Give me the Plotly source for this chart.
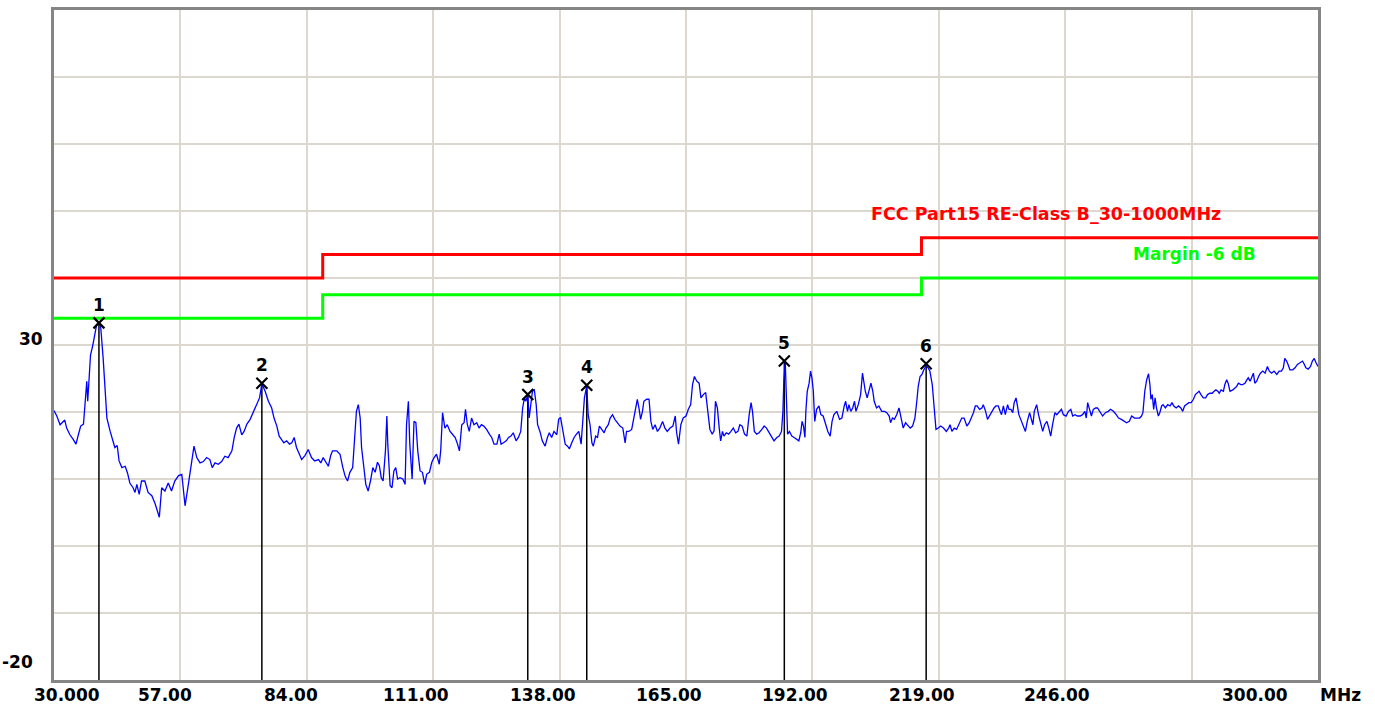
import plotly.graph_objects as go

# ---------------- data ----------------
freq_mhz = [
    30.0, 30.6, 31.3, 32.0, 32.3, 32.7, 33.4, 34.1, 34.7, 35.2, 35.7, 36.3, 36.6, 37.0, 37.2, 37.5,
    37.8, 38.3, 38.8, 39.1, 39.6, 40.0, 40.5, 41.3, 42.0, 42.6, 43.0, 43.5, 43.9, 44.5, 45.2, 45.7,
    46.2, 46.9, 47.3, 47.7, 48.2, 48.7, 49.4, 50.1, 50.9, 51.6, 52.1, 52.5, 53.0, 53.7, 54.4, 55.1,
    55.8, 56.6, 57.3, 57.6, 58.0, 58.7, 59.4, 59.9, 60.5, 61.2, 61.9, 62.6, 63.3, 63.8, 64.4, 65.1,
    65.8, 66.5, 67.2, 68.0, 68.5, 69.0, 69.5, 70.1, 70.6, 71.2, 71.9, 72.6, 73.3, 73.9, 74.4,
    75.1, 75.8, 76.5, 77.0, 77.6, 78.1, 78.6, 79.1, 79.7, 80.3, 80.8, 81.3, 81.8, 82.4, 82.9, 83.6,
    84.3, 85.0, 85.7, 86.5, 87.0, 87.5, 88.1, 88.6, 89.1, 89.5, 90.4, 91.1, 91.7, 92.2, 92.7, 93.2,
    93.8, 94.3, 94.6, 95.0, 95.4, 95.7, 96.2, 96.6, 97.1, 97.6, 98.1, 98.6, 99.1, 99.5, 99.9, 100.3,
    100.8, 101.1, 101.3, 101.8, 102.2, 102.6, 103.0, 103.4, 103.9, 104.5, 105.0, 105.3, 105.7, 106.0,
    106.5, 106.9, 107.3, 107.7, 108.2, 108.7, 109.2, 109.6, 110.2, 110.7, 111.2, 111.7, 112.3, 112.6,
    113.0, 113.5, 114.0, 114.6, 115.2, 115.7, 116.2, 116.6, 117.1, 117.6, 117.9, 118.3, 118.7, 119.2,
    119.7, 120.3, 120.8, 121.3, 121.8, 122.4, 123.1,
    123.5, 124.0, 124.6, 125.1, 125.5, 126.0, 126.6, 127.1, 127.6, 128.1, 128.7, 129.2, 129.7, 130.1,
    130.5, 130.8, 131.2, 131.5, 131.9, 132.2, 132.6, 133.0, 133.3, 133.8, 134.3, 134.9, 135.4, 135.8,
    136.3, 136.8, 137.4, 137.8, 138.2, 138.7, 139.2, 139.7, 140.1, 140.6, 141.1, 141.6, 142.1, 142.6,
    142.9, 143.3, 143.8, 144.1, 144.5, 144.9, 145.2, 145.7, 146.1, 146.5, 147.0, 147.5, 147.9, 148.4,
    148.8, 149.3, 149.8, 150.3, 150.9, 151.5, 152.0, 152.3, 152.8, 153.4, 153.9, 154.3, 154.6, 155.0,
    155.3, 155.7, 156.0, 156.6, 157.1, 157.5, 157.9, 158.4, 158.9, 159.4, 160.0, 160.5, 161.0, 161.6,
    162.2, 162.7, 163.0, 163.4, 163.9, 164.4, 165.0, 165.5, 166.0, 166.4, 166.8, 167.3, 167.8, 168.2,
    168.7, 169.2, 169.6,
    170.1, 170.6, 171.0, 171.3, 171.7, 172.1, 172.4, 172.8, 173.1, 173.6, 174.1, 174.6, 175.1, 175.6,
    176.1, 176.5, 177.0, 177.5, 178.0, 178.5, 178.9, 179.2, 179.6, 180.1, 180.6, 181.2, 181.7, 182.2,
    182.7, 183.2, 183.8, 184.4, 184.9, 185.4, 185.7, 185.9, 186.2, 186.4, 186.7, 187.1, 187.6, 188.1,
    188.6, 189.1, 189.5, 189.8, 190.1, 190.4, 190.6, 190.9, 191.3, 191.6, 191.9, 192.2, 192.5, 192.9,
    193.4, 193.8, 194.3, 194.8, 195.3, 195.8, 196.2, 196.6, 197.2, 197.8, 198.3, 198.8, 199.1, 199.5,
    199.8, 200.2, 200.6, 201.0, 201.3, 201.8, 202.3, 202.7, 203.0, 203.3, 203.7, 204.2, 204.5, 204.9,
    205.2, 205.7, 206.2, 206.8, 207.4, 207.9, 208.4, 208.7, 209.1, 209.5, 210.0, 210.5, 210.9, 211.4,
    211.9, 212.3, 212.9, 213.4, 213.9, 214.3, 214.6, 215.0, 215.4, 215.8, 216.3, 216.7,
    217.1, 217.6, 217.8, 218.1, 218.4, 218.9, 219.4, 220.0, 220.6, 221.1, 221.4, 221.8, 222.3, 222.8,
    223.4, 223.9, 224.4, 225.0, 225.5, 226.0, 226.4, 226.8, 227.2, 227.7, 228.2, 228.5, 229.0, 229.4,
    229.8, 230.3, 230.8, 231.2, 231.7, 232.1, 232.4, 232.8, 233.2, 233.7, 234.0, 234.4, 234.8, 235.1,
    235.5, 235.8, 236.1, 236.5, 236.9, 237.5, 237.9, 238.4, 238.7, 239.1, 239.4, 239.9, 240.3, 240.8,
    241.2, 241.6, 242.1, 242.5, 242.9, 243.3, 243.8, 244.2, 244.8, 245.2, 245.6, 246.2, 246.7, 247.2,
    247.6, 248.1, 248.6, 249.2, 249.7, 250.2, 250.5, 250.8, 251.2, 251.6, 252.0, 252.5, 252.9, 253.4,
    254.0, 254.6, 255.2, 255.7, 256.3, 256.9, 257.4, 258.0, 258.6, 259.1, 259.7, 260.2, 260.8, 261.3,
    261.9, 262.3, 262.6,
    263.0, 263.4, 263.8, 264.1, 264.3, 264.6, 264.9, 265.2, 265.5, 265.9, 266.2, 266.6, 266.9, 267.4,
    267.9, 268.4, 268.8, 269.2, 269.7, 270.2, 270.7, 271.1, 271.5, 271.9, 272.4, 272.9, 273.4, 273.8,
    274.2, 274.6, 275.0, 275.5, 276.0, 276.4, 276.9, 277.4, 277.8, 278.2, 278.6, 278.9, 279.3, 279.8,
    280.1, 280.5, 280.8, 281.2, 281.8, 282.3, 282.6, 283.0, 283.5, 283.9, 284.4, 284.8, 285.1, 285.5,
    285.8, 286.2, 286.5, 286.9, 287.3, 287.7, 288.2, 288.7, 289.2, 289.6, 290.1, 290.6, 291.2, 291.7,
    292.2, 292.6, 292.9, 293.3, 293.6, 294.0, 294.6, 295.1, 295.6, 296.1, 296.7, 297.1, 297.4, 297.9,
    298.4, 298.8, 299.2, 299.6, 300.0,
]
level_dbuv = [
    20.2, 19.4, 18.1, 18.6, 18.8, 17.6, 16.6, 15.9, 15.2, 16.6, 17.9, 18.2, 21.1, 24.6, 21.6, 24.6,
    28.5, 30.0, 32.0, 33.0, 33.4, 32.5, 28.0, 19.1, 17.1, 15.7, 14.7, 15.0, 12.7, 11.7, 11.9, 10.9,
    9.4, 8.7, 8.0, 9.2, 7.7, 9.7, 9.7, 8.0, 7.5, 6.3, 5.3, 4.3, 8.7, 8.2, 9.4, 8.2,
    9.7, 10.5, 10.7, 8.7, 6.0, 9.2, 12.2, 14.9, 13.2, 12.4, 12.6, 13.2, 12.9, 11.7, 12.4, 12.2,
    12.6, 13.4, 13.2, 14.2, 16.2, 17.6, 18.2, 16.6, 17.1, 18.2, 18.9, 20.1, 21.1, 22.1, 24.2,
    23.1, 21.6, 20.6, 19.1, 17.9, 16.4, 15.9, 15.4, 15.7, 15.2, 15.4, 16.2, 14.7, 13.7, 12.9, 13.5,
    14.4, 13.2, 12.7, 12.9, 12.4, 13.2, 12.4, 11.9, 13.5, 14.2, 14.2, 13.7, 11.7, 10.4, 9.7, 11.0,
    11.7, 16.7, 20.1, 21.1, 19.1, 14.7, 11.2, 9.2, 8.2, 9.7, 11.7, 11.0, 12.5, 12.0, 10.2, 9.7,
    14.2, 19.4, 15.2, 9.0, 8.7, 11.2, 11.7, 10.0, 10.2, 10.0, 9.2, 18.1, 21.6, 15.2,
    10.0, 18.6, 18.4, 14.2, 11.2, 11.0, 9.2, 10.7, 11.0, 12.5, 13.2, 13.7, 12.2, 14.2,
    19.9, 17.6, 18.1, 17.1, 16.6, 16.2, 15.2, 14.2, 18.1, 18.4, 20.4, 18.1, 17.1, 19.1,
    18.1, 18.4, 17.6, 18.1, 17.9, 17.4, 16.6,
    16.2, 15.2, 15.2, 16.7, 15.2, 15.4, 15.7, 16.2, 16.4, 16.9, 15.7, 16.2, 17.1, 20.6,
    22.1, 21.6, 22.6, 19.1, 21.6, 23.1, 23.3, 21.1, 18.1, 17.1, 15.7, 14.9, 16.2, 16.9,
    16.2, 17.1, 16.6, 18.9, 19.2, 17.1, 15.2, 14.9, 14.5, 15.4, 16.2, 16.7, 17.1, 15.2,
    18.1, 22.1, 23.9, 19.6, 18.1, 15.4, 14.9, 16.4, 16.2, 17.9, 17.4, 16.9, 17.6, 18.1,
    19.1, 19.6, 18.9, 18.4, 17.9, 17.6, 15.4, 17.1, 17.1, 17.4, 19.1, 20.9, 21.9, 20.4,
    18.9, 20.1, 21.6, 21.9, 21.9, 18.6, 17.4, 18.1, 17.1, 17.6, 18.6, 17.6, 17.1, 17.6,
    17.9, 19.4, 16.9, 15.2, 18.1, 19.1, 19.4, 20.4, 21.1, 24.1, 25.3, 24.6, 24.3, 22.1,
    22.6, 22.9, 20.6,
    17.4, 16.7, 17.2, 21.6, 20.6, 17.6, 15.7, 17.1, 16.4, 16.9, 16.7, 17.1, 17.6, 16.9,
    17.1, 18.1, 17.9, 16.7, 16.4, 19.6, 21.4, 20.1, 17.1, 16.7, 16.9, 17.4, 17.9, 17.6,
    16.9, 16.4, 15.7, 16.2, 16.4, 17.1, 20.1, 24.6, 27.5, 21.6, 16.7, 17.1, 16.4, 16.2,
    15.9, 15.7, 16.9, 18.6, 17.9, 16.2, 20.1, 23.1, 24.3, 26.1, 25.1, 23.1, 18.6, 20.4,
    20.9, 19.6, 19.4, 18.1, 17.1, 16.4, 18.6, 19.6, 20.1, 18.9, 19.1, 20.9, 21.6, 20.1,
    21.1, 20.1, 20.6, 21.6, 20.1, 21.1, 22.6, 25.8, 24.3, 23.1, 22.1, 23.6, 24.3, 23.1,
    21.6, 20.6, 20.9, 20.1, 20.1, 19.9, 19.4, 18.4, 19.1, 18.9, 19.6, 20.6, 19.1, 17.6,
    18.4, 18.1, 17.6, 17.9, 19.1, 21.6, 23.8, 25.3, 25.6, 26.3, 26.9, 26.6,
    26.1, 24.1, 22.1, 19.6, 17.4, 17.6, 17.9, 17.6, 17.1, 17.6, 18.1, 17.1, 17.6, 17.4,
    18.4, 19.1, 19.1, 17.9, 18.4, 19.1, 19.9, 20.9, 20.9, 20.4, 20.6, 21.1, 20.1, 18.9,
    19.4, 20.1, 20.6, 20.9, 20.9, 20.1, 19.6, 20.9, 19.6, 21.1, 20.4, 20.4, 19.9, 21.4,
    22.1, 20.9, 19.6, 18.9, 18.1, 17.1, 18.6, 19.9, 19.1, 18.1, 20.1, 21.1, 19.6, 18.4,
    17.1, 18.1, 18.6, 17.6, 16.4, 18.1, 19.9, 19.6, 20.1, 20.4, 19.6, 19.4, 20.1, 20.4,
    19.4, 19.6, 19.4, 19.4, 19.6, 20.1, 19.1, 21.4, 20.4, 19.4, 20.4, 20.6, 20.6, 20.1,
    19.4, 19.9, 20.1, 20.4, 20.1, 19.6, 19.1, 18.9, 18.6, 18.4, 18.6, 19.4, 19.1, 19.1,
    19.1, 19.4, 19.9,
    23.1, 24.8, 25.7, 24.1, 21.9, 22.6, 20.4, 22.1, 20.6, 19.4, 19.9, 20.9, 21.1, 20.6,
    21.1, 20.9, 21.4, 20.9, 20.6, 20.9, 20.6, 20.1, 20.9, 21.1, 21.4, 21.4, 21.9, 22.6,
    22.8, 23.1, 22.6, 22.1, 22.1, 22.6, 22.8, 22.8, 23.1, 23.3, 23.1, 22.8, 23.3, 23.1,
    24.1, 24.8, 24.3, 23.1, 23.3, 23.6, 23.8, 24.3, 24.1, 24.1, 24.3, 24.8, 25.1, 24.6,
    25.1, 25.8, 24.3, 24.6, 25.3, 25.8, 26.1, 25.8, 26.8, 26.1, 25.8, 26.1, 25.6, 26.1,
    26.1, 26.6, 28.0, 27.6, 27.1, 26.3, 26.3, 26.6, 27.1, 27.3, 27.6, 27.1, 26.6, 26.4,
    26.8, 27.6, 28.0, 27.3, 26.8,
]

limit_freq = [30.0, 87.4, 87.4, 215.3, 215.3, 300.0]
limit_level = [40.0, 40.0, 43.5, 43.5, 46.0, 46.0]
margin_db = -6

marker_ids = ["1", "2", "3", "4", "5", "6"]
marker_freq = [39.6, 74.4, 131.2, 143.8, 186.0, 216.3]
marker_level = [33.3, 24.3, 22.6, 24.0, 27.6, 27.2]

x_tick_vals = [30, 57, 84, 111, 138, 165, 192, 219, 246, 300]
x_tick_text = ["30.000", "57.00", "84.00", "111.00", "138.00", "165.00", "192.00", "219.00", "246.00", "300.00"]
y_tick_vals = [30, -20]
y_tick_text = ["30", "-20"]

limit_name = "FCC Part15 RE-Class B_30-1000MHz"
margin_name = "Margin -6 dB"
x_unit = "MHz"

# ---------------- styling ----------------
FONT = "DejaVu Sans"
X_MIN, X_MAX, X_STEP = 30, 300, 27
Y_MIN, Y_MAX, Y_STEP = -20, 80, 10
x_label_shift = [13, -15, -16, -17, -17, -17, -17, -17, -8, -63]
y_label_shift = [(-9, 6), (-19, 18)]

fig = go.Figure()

# limit & margin lines
fig.add_trace(go.Scatter(x=limit_freq, y=limit_level, mode="lines",
                         line=dict(color="#ff0000", width=3), hoverinfo="skip"))
fig.add_trace(go.Scatter(x=limit_freq, y=[v + margin_db for v in limit_level], mode="lines",
                         line=dict(color="#00ff00", width=3), hoverinfo="skip"))

# marker drop lines
vx, vy = [], []
for f, l in zip(marker_freq, marker_level):
    vx += [f, f, None]
    vy += [l, Y_MIN, None]
fig.add_trace(go.Scatter(x=vx, y=vy, mode="lines", line=dict(color="black", width=1.5),
                         hoverinfo="skip"))

# measurement trace
fig.add_trace(go.Scatter(x=freq_mhz, y=level_dbuv, mode="lines",
                         line=dict(color="#0000ff", width=1.3)))

# peak markers
fig.add_trace(go.Scatter(x=marker_freq, y=marker_level, mode="markers",
                         marker=dict(symbol="x-thin", size=11, color="black",
                                     line=dict(color="black", width=2.2))))

annotations = []
for mid, f, l in zip(marker_ids, marker_freq, marker_level):
    annotations.append(dict(x=f, y=l, xref="x", yref="y", text="<b>%s</b>" % mid,
                            showarrow=False, yshift=18,
                            font=dict(family=FONT, size=17, color="black")))

for v, t, s in zip(x_tick_vals, x_tick_text, x_label_shift):
    annotations.append(dict(x=v, y=0, xref="x", yref="paper", text="<b>%s</b>" % t,
                            showarrow=False, xanchor="center", yanchor="top",
                            xshift=s, yshift=-3,
                            font=dict(family=FONT, size=17, color="black")))
annotations.append(dict(x=1, y=0, xref="paper", yref="paper", text="<b>%s</b>" % x_unit,
                        showarrow=False, xanchor="left", yanchor="top", xshift=0, yshift=-3,
                        font=dict(family=FONT, size=17, color="black")))

for v, t, (sx, sy) in zip(y_tick_vals, y_tick_text, y_label_shift):
    annotations.append(dict(x=0, y=v, xref="paper", yref="y", text="<b>%s</b>" % t,
                            showarrow=False, xanchor="right", yanchor="middle",
                            xshift=sx, yshift=sy,
                            font=dict(family=FONT, size=17, color="black")))

annotations.append(dict(x=215.3, y=limit_level[-1], xref="x", yref="y",
                        text="<b>%s</b>" % limit_name, showarrow=False,
                        xanchor="left", yanchor="bottom", xshift=-52, yshift=12,
                        font=dict(family=FONT, size=17.5, color="#ff0000")))
annotations.append(dict(x=X_MAX, y=limit_level[-1] + margin_db, xref="x", yref="y",
                        text="<b>%s</b>" % margin_name, showarrow=False,
                        xanchor="right", yanchor="bottom", xshift=-60, yshift=12,
                        font=dict(family=FONT, size=17, color="#00ff00")))

fig.update_layout(
    width=1375, height=709,
    margin=dict(l=54, r=57, t=7, b=29),
    paper_bgcolor="white", plot_bgcolor="white",
    showlegend=False,
    annotations=annotations,
    xaxis=dict(range=[X_MIN, X_MAX], tick0=X_MIN, dtick=X_STEP, showticklabels=False,
               showgrid=True, gridcolor="#dcd8d0", gridwidth=1.5, zeroline=False,
               showline=True, mirror=True, linecolor="#858585", linewidth=3, ticks=""),
    yaxis=dict(range=[Y_MIN, Y_MAX], tick0=Y_MIN, dtick=Y_STEP, showticklabels=False,
               showgrid=True, gridcolor="#dcd8d0", gridwidth=1.5, zeroline=False,
               showline=True, mirror=True, linecolor="#858585", linewidth=3, ticks=""),
)

fig.write_html("out.html", config={"displayModeBar": False},
               post_script="document.body.style.margin='0';document.body.style.overflow='hidden';")
